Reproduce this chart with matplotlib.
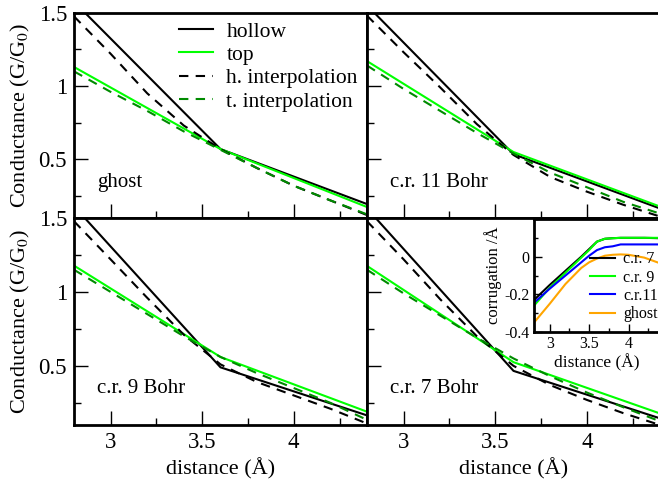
import matplotlib
matplotlib.use("Agg")
import matplotlib.pyplot as plt
from matplotlib.ticker import MultipleLocator, FormatStrFormatter

plt.rcParams["font.family"] = ["Liberation Serif", "DejaVu Serif"]
plt.rcParams["mathtext.fontset"] = "stix"
plt.rcParams["axes.unicode_minus"] = False

# distance grid (Angstrom)
dist_knots = [2.8, 3.6, 4.4]
dist_fit = [2.8, 3.0, 3.2, 3.4, 3.6, 3.8, 4.0, 4.2, 4.4]

# conductance (G/G0) per panel
ghost_hollow = [1.575, 0.57, 0.195]
ghost_top = [1.13, 0.57, 0.175]
ghost_h_fit = [1.475, 1.22, 0.95, 0.73, 0.57, 0.44, 0.32, 0.22, 0.12]
ghost_t_fit = [1.10, 0.96, 0.83, 0.69, 0.565, 0.44, 0.32, 0.22, 0.125]

cr11_hollow = [1.55, 0.535, 0.165]
cr11_top = [1.17, 0.55, 0.178]
cr11_h_fit = [1.48, 1.23, 0.99, 0.74, 0.53, 0.38, 0.28, 0.19, 0.11]
cr11_t_fit = [1.14, 0.98, 0.83, 0.68, 0.54, 0.41, 0.31, 0.21, 0.13]

cr9_hollow = [1.58, 0.49, 0.165]
cr9_top = [1.178, 0.56, 0.19]
cr9_h_fit = [1.478, 1.22, 0.96, 0.71, 0.51, 0.39, 0.30, 0.21, 0.11]
cr9_t_fit = [1.15, 1.00, 0.85, 0.70, 0.56, 0.45, 0.35, 0.25, 0.135]

cr7_hollow = [1.565, 0.466, 0.145]
cr7_top = [1.176, 0.525, 0.178]
cr7_h_fit = [1.478, 1.22, 0.95, 0.70, 0.50, 0.37, 0.27, 0.18, 0.10]
cr7_t_fit = [1.15, 0.99, 0.84, 0.69, 0.55, 0.43, 0.32, 0.22, 0.125]

panel_names = ["ghost", "c.r. 11 Bohr", "c.r. 9 Bohr", "c.r. 7 Bohr"]

# inset: corrugation (Angstrom)
inset_dist = [2.8, 3.0, 3.2, 3.4, 3.5, 3.6, 3.7, 3.8, 3.9, 4.0, 4.2, 4.4]
corr_cr7 = [-0.23, -0.15, -0.075, 0.0, 0.04, 0.08, 0.095, 0.098, 0.10, 0.10, 0.10, 0.098]
corr_cr9 = [-0.26, -0.165, -0.085, -0.005, 0.035, 0.08, 0.095, 0.098, 0.10, 0.10, 0.10, 0.10]
corr_cr11 = [-0.245, -0.17, -0.10, -0.03, 0.005, 0.035, 0.05, 0.055, 0.065, 0.065, 0.065, 0.065]
corr_ghost = [-0.35, -0.25, -0.145, -0.06, -0.03, -0.01, 0.005, 0.01, 0.012, 0.01, -0.005, -0.035]

BLACK = "black"
LIME = "#00ff00"
DKGREEN = "#008b00"
DASH = (0, (4.5, 3.5))

W, H = 658, 483
fig = plt.figure(figsize=(W / 100, H / 100), dpi=100)


def frac(x0, y0, x1, y1):
    return [x0 / W, 1 - y1 / H, (x1 - x0) / W, (y1 - y0) / H]


boxes = [
    frac(74, 12.7, 367, 218),
    frac(367, 12.7, 660, 218),
    frac(74, 218, 367, 425),
    frac(367, 218, 660, 425),
]
data = [
    (ghost_hollow, ghost_top, ghost_h_fit, ghost_t_fit),
    (cr11_hollow, cr11_top, cr11_h_fit, cr11_t_fit),
    (cr9_hollow, cr9_top, cr9_h_fit, cr9_t_fit),
    (cr7_hollow, cr7_top, cr7_h_fit, cr7_t_fit),
]

fmt = FormatStrFormatter("%g")

axes = []
for i, (box, (hol, top, hfit, tfit)) in enumerate(zip(boxes, data)):
    ax = fig.add_axes(box)
    ax.plot(dist_knots, hol, color=BLACK, lw=1.5, label="hollow")
    ax.plot(dist_knots, top, color=LIME, lw=1.5, label="top")
    ax.plot(dist_fit, hfit, color=BLACK, lw=1.5, ls=DASH, label="h. interpolation")
    ax.plot(dist_fit, tfit, color=DKGREEN, lw=1.5, ls=DASH, label="t. interpolation")
    ax.set_xlim(2.8, 4.4)
    ax.set_ylim(0.1, 1.5)
    ax.xaxis.set_major_locator(MultipleLocator(0.5))
    ax.xaxis.set_minor_locator(MultipleLocator(0.25))
    ax.yaxis.set_major_locator(MultipleLocator(0.5))
    ax.yaxis.set_minor_locator(MultipleLocator(0.25))
    ax.xaxis.set_major_formatter(fmt)
    ax.yaxis.set_major_formatter(fmt)
    ax.tick_params(which="both", direction="in", width=1, labelsize=16.5, pad=5)
    ax.tick_params(which="major", length=10)
    ax.tick_params(which="minor", length=5)
    for s in ax.spines.values():
        s.set_linewidth(2)
    ax.text(0.078, 0.175, panel_names[i], transform=ax.transAxes,
            fontsize=15, va="center", ha="left")
    if i < 2:
        ax.tick_params(labelbottom=False)
    else:
        ax.set_xlabel("distance (Å)", fontsize=16, labelpad=4)
    if i % 2 == 1:
        ax.tick_params(labelleft=False)
    else:
        ax.set_ylabel("Conductance (G/G$_0$)", fontsize=16, labelpad=5)
    axes.append(ax)

axes[0].legend(loc="upper right", bbox_to_anchor=(1.02, 1.03), frameon=False,
               fontsize=15.5, handlelength=1.6, handletextpad=0.6,
               labelspacing=0.15, borderaxespad=0.3)

# inset
ins = fig.add_axes(frac(534, 219, 660, 332))
ins.plot(inset_dist, corr_cr7, color=BLACK, lw=1.5, label="c.r. 7")
ins.plot(inset_dist, corr_cr9, color=LIME, lw=1.5, label="c.r. 9")
ins.plot(inset_dist, corr_cr11, color="#0000ff", lw=1.5, label="c.r.11")
ins.plot(inset_dist, corr_ghost, color="#ffa500", lw=1.5, label="ghost")
ins.set_xlim(2.8, 4.4)
ins.set_ylim(-0.4, 0.2)
ins.set_yticks([-0.4, -0.2, 0])
ins.set_yticklabels(["-0.4", "-0.2", "0"])
ins.xaxis.set_major_locator(MultipleLocator(0.5))
ins.xaxis.set_minor_locator(MultipleLocator(0.25))
ins.xaxis.set_major_formatter(fmt)
ins.yaxis.set_minor_locator(MultipleLocator(0.1))
ins.tick_params(which="both", direction="in", width=1, labelsize=11.5, pad=3)
ins.tick_params(which="major", length=6)
ins.tick_params(which="minor", length=3)
for s in ins.spines.values():
    s.set_linewidth(2)
ins.set_xlabel("distance (Å)", fontsize=12.5, labelpad=1)
ins.set_ylabel("corrugation /Å", fontsize=12, labelpad=2)
ins.legend(loc="lower right", bbox_to_anchor=(1.06, 0.0), frameon=False,
           fontsize=11.5, handlelength=1.6, handletextpad=0.5,
           labelspacing=0.15, borderaxespad=0.2)

fig.savefig("out.png", dpi=100)
